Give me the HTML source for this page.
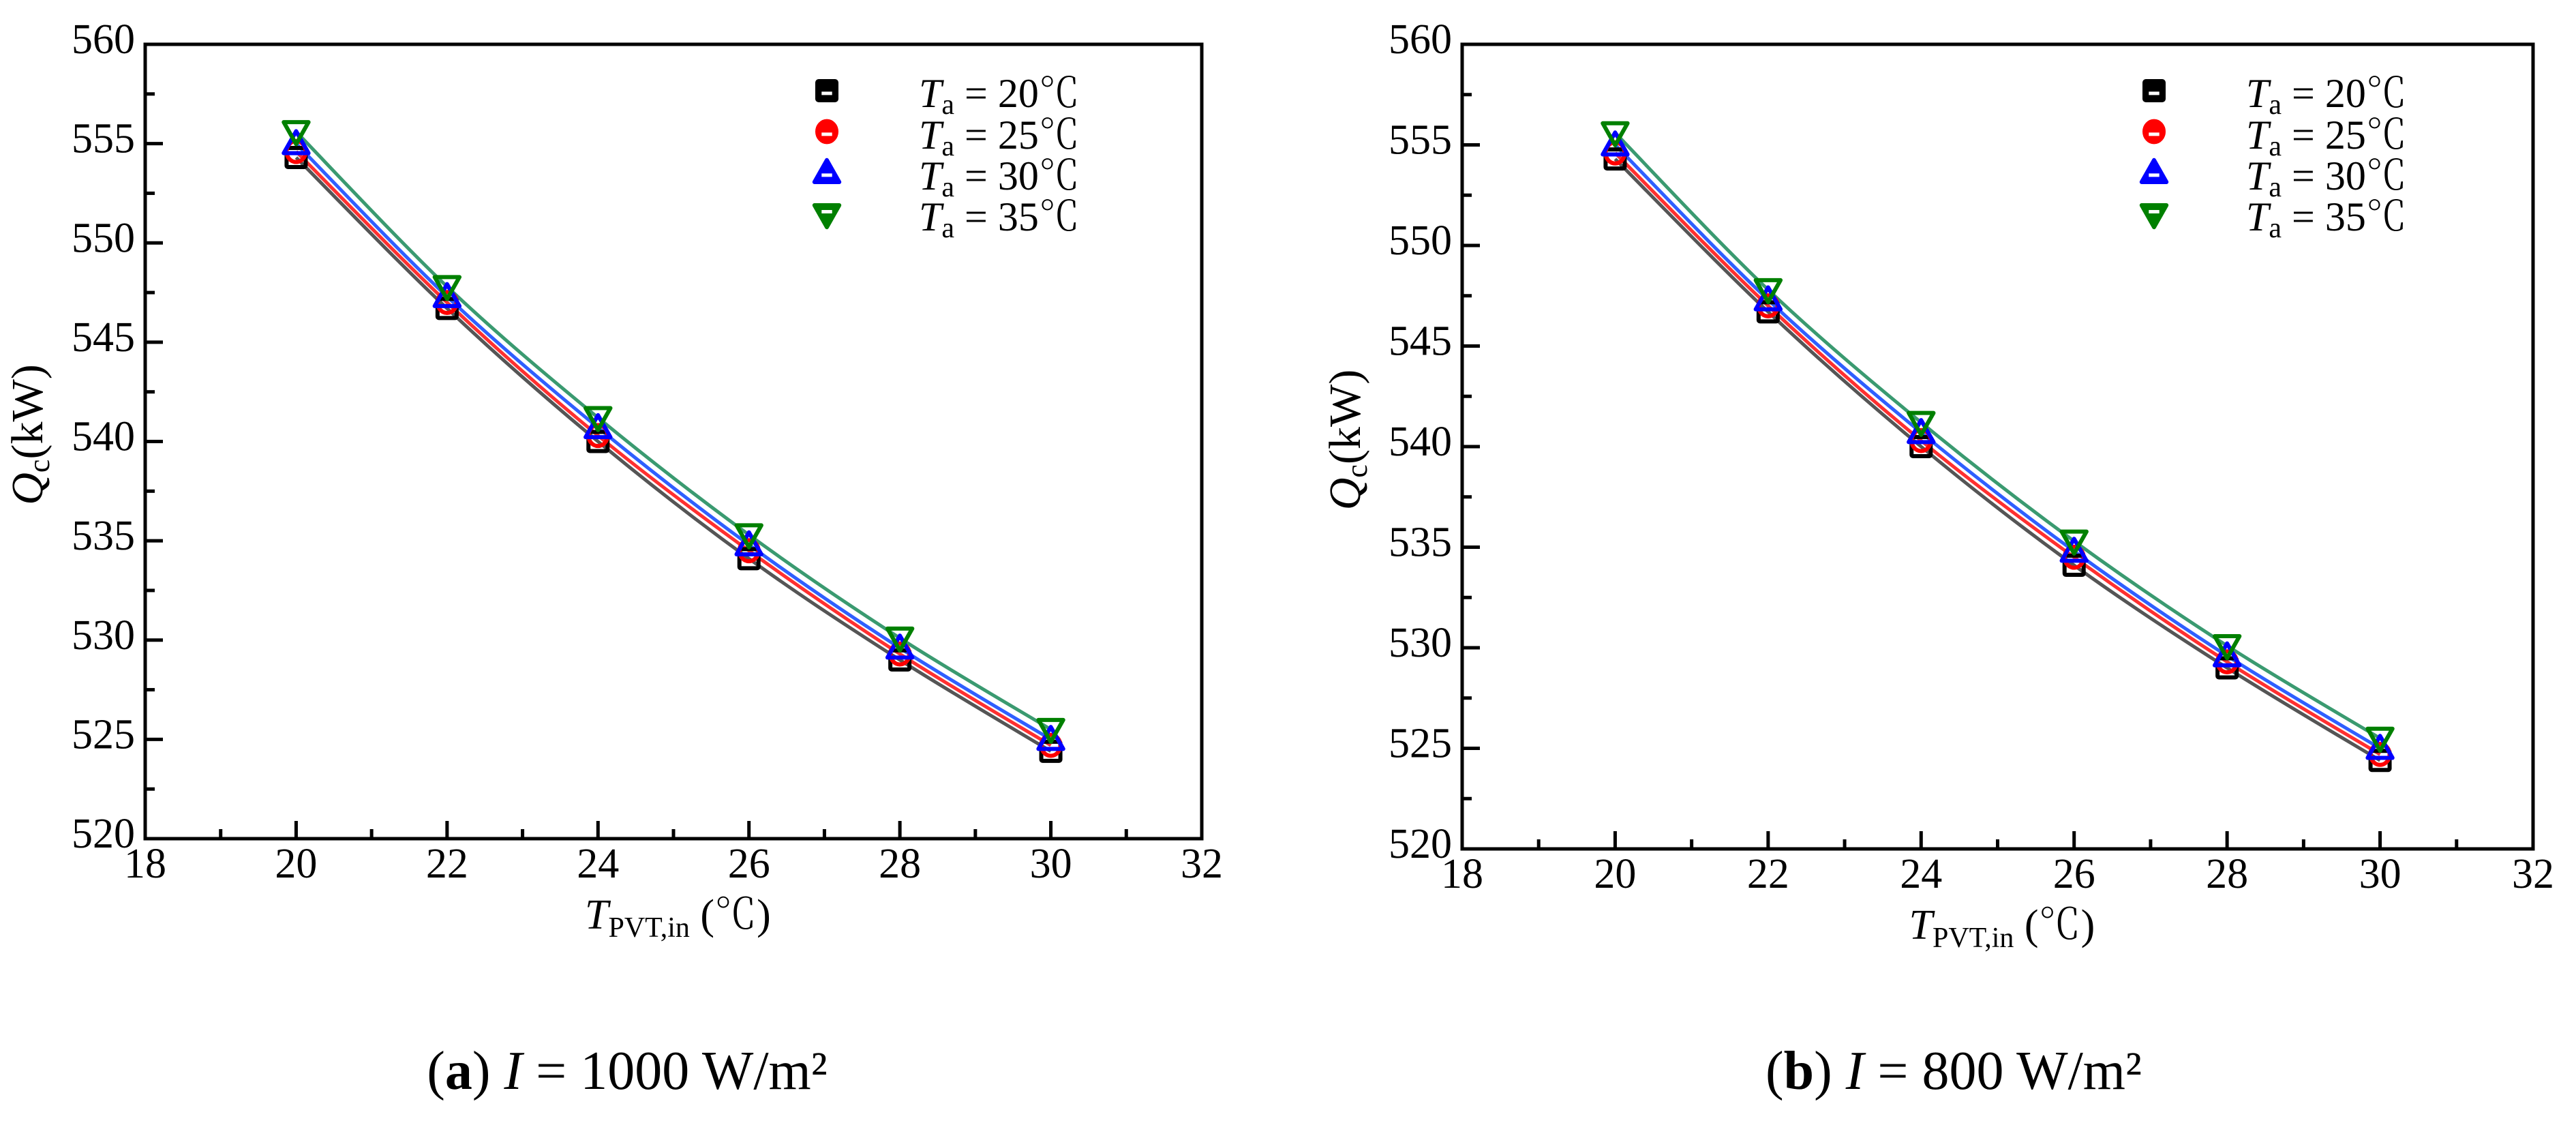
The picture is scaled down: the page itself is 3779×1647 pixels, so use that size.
<!DOCTYPE html>
<html><head><meta charset="utf-8">
<style>
html,body{margin:0;padding:0;background:#fff;}
svg{display:block;}
text{font-family:"Liberation Serif",serif;fill:#000;}
.deg{font-family:"Noto Serif CJK SC","Liberation Serif",serif;font-weight:300;}
</style></head>
<body>
<svg id="fig" width="3779" height="1647" viewBox="0 0 3779 1647" xmlns="http://www.w3.org/2000/svg"></svg>
<script>
const xCategories = [20, 22, 24, 26, 28, 30];
const xTicks = [18, 20, 22, 24, 26, 28, 30, 32];
const yTicks = [520, 525, 530, 535, 540, 545, 550, 555, 560];
const seriesNames = ["20", "25", "30", "35"];
const seriesA20 = [554.3, 546.7, 540.0, 534.1, 529.0, 524.4];
const seriesA25 = [554.6, 547.0, 540.3, 534.5, 529.3, 524.7];
const seriesA30 = [555.0, 547.3, 540.7, 534.8, 529.6, 525.0];
const seriesA35 = [555.6, 547.8, 541.2, 535.3, 530.1, 525.5];
const seriesB20 = [554.3, 546.7, 540.0, 534.1, 529.0, 524.4];
const seriesB25 = [554.6, 547.0, 540.3, 534.5, 529.3, 524.7];
const seriesB30 = [555.0, 547.3, 540.7, 534.8, 529.6, 525.0];
const seriesB35 = [555.6, 547.8, 541.2, 535.3, 530.1, 525.5];

const NS = "http://www.w3.org/2000/svg";
const svg = document.getElementById("fig");
function mk(tag, attrs, parent) {
  const e = document.createElementNS(NS, tag);
  for (const k in attrs) e.setAttribute(k, attrs[k]);
  (parent || svg).appendChild(e);
  return e;
}
const markerColors = ["#000", "#ff0000", "#0000ff", "#008000"];
const lineColors = ["#555555", "#ff3030", "#2f5fff", "#3a9a70"];

function markerShape(g, type, cx, cy, s, filled) {
  const col = markerColors[type];
  let el;
  const fill = filled ? col : "none";
  if (type === 0) el = mk("rect", {x: cx - s, y: cy - s, width: 2 * s, height: 2 * s, rx: 2, fill: fill, stroke: col, "stroke-width": 6}, g);
  else if (type === 1) el = mk("ellipse", {cx: cx, cy: cy, rx: s, ry: s * 1.1, fill: fill, stroke: col, "stroke-width": 6}, g);
  else if (type === 2) el = mk("polygon", {points: `${cx},${cy - s * 1.3} ${cx + s * 1.3},${cy + s} ${cx - s * 1.3},${cy + s}`, fill: fill, stroke: col, "stroke-width": 6, "stroke-linejoin": "round"}, g);
  else el = mk("polygon", {points: `${cx - s * 1.3},${cy - s} ${cx + s * 1.3},${cy - s} ${cx},${cy + s * 1.3}`, fill: fill, stroke: col, "stroke-width": 6, "stroke-linejoin": "round"}, g);
  if (filled) {
    mk("rect", {x: cx - s * 0.55, y: cy + (type === 3 ? -s * 0.5 : s * 0.1), width: s * 1.1, height: 5, fill: "#fff"}, g);
  }
  return el;
}

function smoothPath(pts) {
  let d = `M${pts[0][0]},${pts[0][1]}`;
  for (let i = 0; i < pts.length - 1; i++) {
    const p0 = pts[Math.max(0, i - 1)], p1 = pts[i], p2 = pts[i + 1], p3 = pts[Math.min(pts.length - 1, i + 2)];
    const c1 = [p1[0] + (p2[0] - p0[0]) / 6, p1[1] + (p2[1] - p0[1]) / 6];
    const c2 = [p2[0] - (p3[0] - p1[0]) / 6, p2[1] - (p3[1] - p1[1]) / 6];
    d += ` C${c1[0]},${c1[1]} ${c2[0]},${c2[1]} ${p2[0]},${p2[1]}`;
  }
  return d;
}

function drawChart(cfg) {
  const {L, R, T, B, series, tag, legX, yTitleX, caption, capX} = cfg;
  const xs = v => L + (v - 18) / 14 * (R - L);
  const ys = v => B - (v - 520) / 40 * (B - T);
  const g = mk("g", {});
  
  

  series.forEach((vals, si) => {
    const p = mk("path", {d: smoothPath(vals.map((v, i) => [xs(xCategories[i]), ys(v)])), fill: "none", stroke: lineColors[si], "stroke-width": 5}, g);
    
    
  });
  series.forEach((vals, si) => {
    vals.forEach((v, i) => {
      const m = markerShape(g, si, xs(xCategories[i]), ys(v), 14, false);
      
      
    });
  });

  const fr = mk("rect", {x: L, y: T, width: R - L, height: B - T, fill: "none", stroke: "#000", "stroke-width": 5}, g);
  
  

  for (let v = 18; v <= 32; v += 1) {
    const major = v % 2 === 0;
    mk("line", {x1: xs(v), x2: xs(v), y1: B, y2: B - (major ? 26 : 14), stroke: "#000", "stroke-width": 5}, g);
  }
  xTicks.forEach(v => {
    const t = mk("text", {x: xs(v), y: B + 57, "font-size": 62, "text-anchor": "middle"}, g);
    t.textContent = v;
    
    
  });
  for (let v = 520; v <= 560; v += 2.5) {
    const major = v % 5 === 0;
    mk("line", {x1: L, x2: L + (major ? 26 : 14), y1: ys(v), y2: ys(v), stroke: "#000", "stroke-width": 5}, g);
  }
  yTicks.forEach(v => {
    const t = mk("text", {x: L - 15, y: ys(v) + 13, "font-size": 62, "text-anchor": "end"}, g);
    t.textContent = v;
    
    
  });

  const xt = mk("text", {x: (L + R) / 2 - 130, y: B + 132, "font-size": 62}, g);
  
  
  xt.innerHTML = '<tspan font-style="italic">T</tspan><tspan font-size="42" dy="12">PVT,in</tspan><tspan dy="-12"> (</tspan><tspan class="deg">℃</tspan><tspan>)</tspan>';

  const yt = mk("text", {x: 0, y: 0, "font-size": 66, transform: `translate(${yTitleX},${(T + B) / 2 - 10}) rotate(-90)`, "text-anchor": "middle"}, g);
  
  
  yt.innerHTML = '<tspan font-style="italic">Q</tspan><tspan font-size="44" dy="10">c</tspan><tspan dy="-10">(kW)</tspan>';

  const lg = mk("g", {}, g);
  
  
  const rows = [133, 193, 253, 315];
  const bases = [157, 218, 278, 338];
  seriesNames.forEach((n, si) => {
    const e = mk("g", {}, lg);
    
    
    markerShape(e, si, legX, rows[si], 14, true);
    const t = mk("text", {x: legX + 135, y: bases[si], "font-size": 60}, e);
    t.innerHTML = `<tspan font-style="italic">T</tspan><tspan font-size="42" dy="10">a</tspan><tspan dy="-10"> = ${n}</tspan><tspan class="deg">℃</tspan>`;
  });

  const cp = mk("text", {x: capX, y: 1597, "font-size": 80, "text-anchor": "middle"}, g);
  
  
  cp.innerHTML = caption;
}

drawChart({L: 213, R: 1763, T: 65, B: 1230, series: [seriesA20, seriesA25, seriesA30, seriesA35], tag: "a", legX: 1213, yTitleX: 62,
  caption: '(<tspan font-weight="bold">a</tspan>) <tspan font-style="italic">I</tspan> = 1000 W/m²', capX: 920});
drawChart({L: 2145, R: 3716, T: 65, B: 1245, series: [seriesB20, seriesB25, seriesB30, seriesB35], tag: "b", legX: 3160, yTitleX: 1995,
  caption: '(<tspan font-weight="bold">b</tspan>) <tspan font-style="italic">I</tspan> = 800 W/m²', capX: 2866});
</script>
</body></html>
